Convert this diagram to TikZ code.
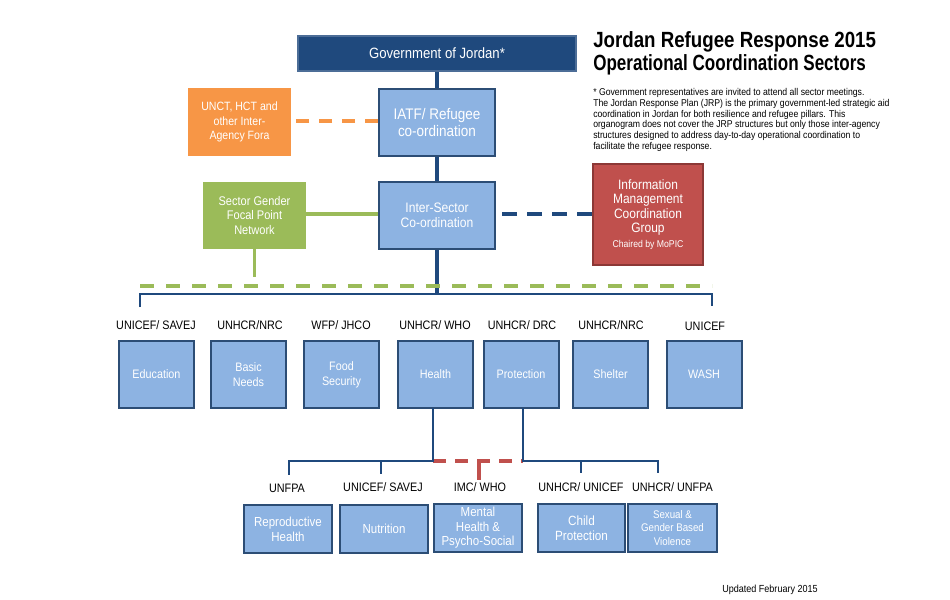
\documentclass[tikz,border=0pt]{standalone}
\usepackage{graphicx}
\usepackage{fontspec}
\setmainfont{Liberation Sans}[FakeStretch=0.88]
\usetikzlibrary{calc}
\definecolor{navy}{HTML}{1F497D}
\definecolor{lblue}{HTML}{8DB3E2}
\definecolor{bord}{HTML}{2C4D75}
\definecolor{orng}{HTML}{F79646}
\definecolor{grn}{HTML}{9BBB59}
\definecolor{rd}{HTML}{C0504D}
\definecolor{rdb}{HTML}{8C3836}
\tikzset{
  lbox/.style={draw=bord, line width=1.5pt, fill=lblue, text=white, align=center, inner sep=1pt},
  sect/.style={lbox, minimum width=75*0.75pt, minimum height=67*0.75pt, font=\fontsize{9.2}{11.25}\selectfont},
  sub/.style={lbox, minimum height=48*0.75pt, font=\fontsize{9.8}{11.25}\selectfont},
  lab/.style={text=black, font=\fontsize{9.2}{10}\selectfont, inner sep=0pt},
  navline/.style={draw=navy, line width=2.6pt},
  brline/.style={draw=navy, line width=2.2pt},
}
\begin{document}
\begin{tikzpicture}[x=0.75pt,y=-0.75pt]
\useasboundingbox[fill=white] (0,0) rectangle (950,600);

% top structure
\node[draw=navy!80!white, line width=1pt, fill=navy, text=white, minimum width=278*0.75pt, minimum height=35*0.75pt, font=\fontsize{11.2}{12}\selectfont] (gov) at (437,53.5) {Government of Jordan*};
\node[lbox, minimum width=116*0.75pt, minimum height=67*0.75pt, font=\fontsize{11.5}{12.75}\selectfont] (iatf) at (437,122.5) {IATF/ Refugee\\co-ordination};
\node[fill=orng, text=white, align=center, minimum width=103*0.75pt, minimum height=68*0.75pt, font=\fontsize{9}{10.9}\selectfont, inner sep=1pt] (unct) at (239.5,122) {UNCT, HCT and\\other Inter-\\Agency Fora};
\node[lbox, minimum width=116*0.75pt, minimum height=67*0.75pt, font=\fontsize{10.3}{11.25}\selectfont] (inter) at (437,215.5) {Inter-Sector\\Co-ordination};
\node[fill=grn, text=white, align=center, minimum width=103*0.75pt, minimum height=67*0.75pt, font=\fontsize{9.4}{10.9}\selectfont, inner sep=1pt] (gender) at (254.5,215.5) {Sector Gender\\Focal Point\\Network};
\node[draw=rdb, line width=1.2pt, fill=rd, text=white, align=center, minimum width=110*0.75pt, minimum height=101*0.75pt, font=\fontsize{10.2}{10.9}\selectfont, inner sep=1pt] (im) at (648,214.5) {Information\\Management\\Coordination\\Group\\{\fontsize{7.4}{9}\selectfont Chaired by MoPIC}};

% title and note
\node[anchor=base west, inner sep=0pt, font=\fontsize{16.5}{18}\selectfont\bfseries] (t1) at (593,47) {\scalebox{0.966}[1]{Jordan Refugee Response 2015}};
\node[anchor=base west, inner sep=0pt, font=\fontsize{16.5}{18}\selectfont\bfseries] (t2) at (593,70) {\scalebox{0.88}[1]{Operational Coordination Sectors}};
\node[anchor=north west, inner sep=0pt, align=left, font=\fontsize{7.4}{8.1}\selectfont] (note) at (593,88) {* Government representatives are invited to attend all sector meetings.\\The Jordan Response Plan (JRP) is the primary government-led strategic aid\\coordination in Jordan for both resilience and refugee pillars. This\\organogram does not cover the JRP structures but only those inter-agency\\structures designed to address day-to-day operational coordination to\\facilitate the refugee response.};
\node[anchor=base west, inner sep=0pt, font=\fontsize{7.7}{8}\selectfont] (upd) at (722,592) {Updated February 2015};

% sector boxes
\node[sect] (edu) at (156.5,374.5) {Education};
\node[sect] (basic) at (248.5,374.5) {Basic\\Needs};
\node[sect] (food) at (341.5,374.5) {Food\\Security};
\node[sect] (health) at (435.5,374.5) {Health};
\node[sect] (prot) at (521,374.5) {Protection};
\node[sect] (shelter) at (610.5,374.5) {Shelter};
\node[sect] (wash) at (704,374.5) {WASH};

\node[lab] (l1) at (156,325) {UNICEF/ SAVEJ};
\node[lab] (l2) at (250,325) {UNHCR/NRC};
\node[lab] (l3) at (341,325) {WFP/ JHCO};
\node[lab] (l4) at (435,325) {UNHCR/ WHO};
\node[lab] (l5) at (522,325) {UNHCR/ DRC};
\node[lab] (l6) at (611,325) {UNHCR/NRC};
\node[lab] (l7) at (705,326) {UNICEF};

% sub-sector boxes
\node[sub, minimum width=88*0.75pt] (repro) at (288,529) {Reproductive\\Health};
\node[sub, minimum width=88*0.75pt] (nutr) at (384,529) {Nutrition};
\node[sub, minimum width=88*0.75pt, font=\fontsize{9.8}{10.9}\selectfont] (mental) at (478,528) {Mental\\Health \&\\Psycho-Social};
\node[sub, minimum width=87*0.75pt, font=\fontsize{10}{11.25}\selectfont] (child) at (581.5,528) {Child\\Protection};
\node[sub, minimum width=89*0.75pt, font=\fontsize{8.3}{10}\selectfont] (sgbv) at (672.5,528) {Sexual \&\\Gender Based\\Violence};

\node[lab] (b1) at (287,488) {UNFPA};
\node[lab] (b2) at (383,487) {UNICEF/ SAVEJ};
\node[lab] (b3) at (480,487) {IMC/ WHO};
\node[lab] (b4) at (581,487) {UNHCR/ UNICEF};
\node[lab] (b5) at (672.5,487) {UNHCR/ UNFPA};

% connectors top
\draw[navline] (gov.south) -- (iatf.north);
\draw[navline] (iatf.south) -- (inter.north);
\coordinate (brk) at (437,294);
\draw[navline] (inter.south) -- (brk);
\coordinate (bl) at (140,307);
\coordinate (br) at (712,306);
\draw[brline] (bl) |- (brk) -| (br);
\coordinate (gl) at (140,285.5);
\coordinate (gr) at (712,285.5);
\draw[draw=grn, line width=3pt, dash pattern=on 14*0.75pt off 12*0.75pt] (gl) -- (gr);
\coordinate (gv) at (254.5,277);
\draw[draw=grn, line width=2.3pt] (gender.south) -- (gv);
\draw[draw=grn, line width=2.3pt] (gender.east |- 0,214) -- (inter.west |- 0,214);
\draw[draw=orng, line width=3pt, dash pattern=on 13*0.75pt off 10*0.75pt] (iatf.west |- 0,121) -- ($(unct.east)+(2,-1)$);
\draw[draw=navy, line width=3pt, dash pattern=on 15*0.75pt off 10*0.75pt] (im.west |- 0,214) -- ($(inter.east)+(6,-1.5)$);

% connectors bottom
\coordinate (hs) at (433,408);
\coordinate (hj) at (433,461);
\coordinate (ps) at (523,408);
\coordinate (pj) at (523,461);
\coordinate (s1) at (289,475);
\coordinate (s2) at (381,474);
\coordinate (s3) at (479,480);
\coordinate (s4) at (581,473);
\coordinate (s5) at (658,473);
\draw[draw=rd, line width=3pt, dash pattern=on 13*0.75pt off 9*0.75pt] (hj) -- (pj);
\draw[draw=rd, line width=3pt] (s3 |- hj) -- (s3);
\draw[brline] (hs) -- (hj) -| (s1);
\draw[brline] (s2 |- hj) -- (s2);
\draw[brline] (ps) -- (pj) -| (s5);
\draw[brline] (s4 |- pj) -- (s4);
\end{tikzpicture}
\end{document}
